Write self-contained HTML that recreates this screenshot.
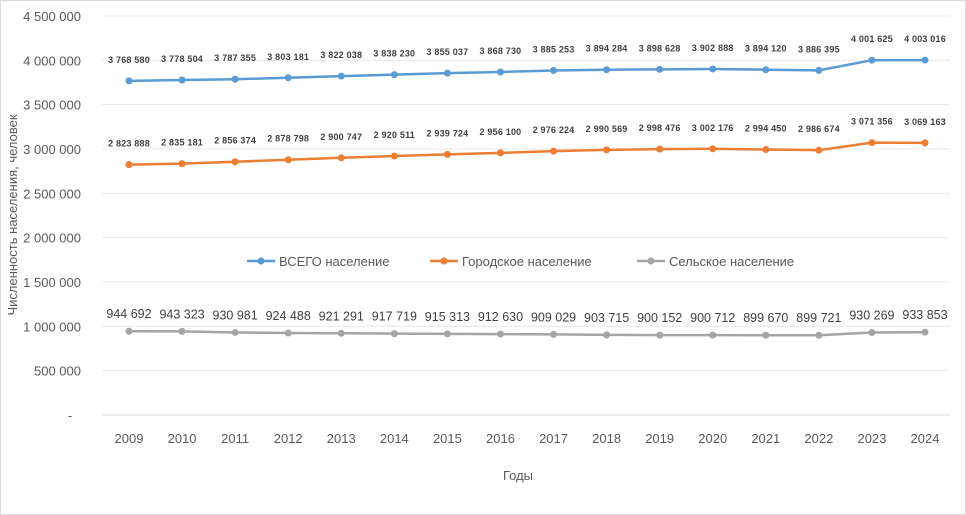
<!DOCTYPE html>
<html><head><meta charset="utf-8"><style>
body{margin:0;background:#fff;}
svg{display:block;font-family:"Liberation Sans",sans-serif;}
</style></head><body>
<svg id="c" width="966" height="515">
<rect x="0.5" y="0.5" width="965" height="514" fill="#fff" stroke="#d9d9d9"/>
<g id="grid"></g><g id="axes"></g><g id="series"></g>
<text x="518" y="480" font-size="13" fill="#595959" text-anchor="middle">Годы</text>
<text transform="translate(17,215) rotate(-90)" font-size="13" fill="#595959" text-anchor="middle">Численность населения, человек</text>
</svg>
<script>
const years=[2009,2010,2011,2012,2013,2014,2015,2016,2017,2018,2019,2020,2021,2022,2023,2024];
const totalPop=[3768580,3778504,3787355,3803181,3822038,3838230,3855037,3868730,3885253,3894284,3898628,3902888,3894120,3886395,4001625,4003016];
const urbanPop=[2823888,2835181,2856374,2878798,2900747,2920511,2939724,2956100,2976224,2990569,2998476,3002176,2994450,2986674,3071356,3069163];
const ruralPop=[944692,943323,930981,924488,921291,917719,915313,912630,909029,903715,900152,900712,899670,899721,930269,933853];
const yTicks=[0,500000,1000000,1500000,2000000,2500000,3000000,3500000,4000000,4500000];
const seriesNames=["ВСЕГО население","Городское население","Сельское население"];
const NS="http://www.w3.org/2000/svg";
const x=i=>129+i*(925-129)/15;
const y=v=>415-v*(415-16)/4500000;
const fmt=v=>v===0?"-":String(v).replace(/\B(?=(\d{3})+(?!\d))/g," ");
function mk(tag,attrs,parent,txt){const e=document.createElementNS(NS,tag);for(const k in attrs)e.setAttribute(k,attrs[k]);if(txt!==undefined)e.textContent=txt;parent.appendChild(e);return e;}
const grid=document.getElementById('grid'),axes=document.getElementById('axes'),ser=document.getElementById('series');
yTicks.forEach(t=>{
  const l=mk('line',{x1:102,x2:950,y1:y(t),y2:y(t),stroke:t===0?'#d9d9d9':'#e8e8e8','stroke-width':1},grid);
  
  
  const tx=mk('text',{x:t===0?70:81,y:y(t)+5,'font-size':13,fill:'#595959','text-anchor':t===0?'middle':'end'},axes,fmt(t));
  
  
});
years.forEach((yr,i)=>{
  const tx=mk('text',{x:x(i),y:443,'font-size':13,fill:'#595959','text-anchor':'middle'},axes,yr);
  
  
});
const defs=[[totalPop,'#5b9bd5',-18,9,'bold','total-series'],[urbanPop,'#ed7d31',-18,9,'bold','urban-series'],[ruralPop,'#a5a5a5',-13,12.5,'normal','rural-series']];
defs.forEach(([d,c,off,fs,fw,nm])=>{
  const g=mk('g',{},ser);
  
  
  const p=mk('polyline',{points:d.map((v,i)=>x(i)+','+y(v)).join(' '),fill:'none',stroke:c,'stroke-width':2.5},g);
  
  
  d.forEach((v,i)=>{
    const m=mk('circle',{cx:x(i),cy:y(v),r:3.5,fill:c},g);
    
    
    const t=mk('text',{x:x(i),y:y(v)+off,'font-size':fs,'font-weight':fw,fill:fw==='bold'?'#404040':'#404040','text-anchor':'middle','letter-spacing':fw==='bold'?'0.2':'0'},g,fmt(v));
    
    
  });
});
const legX=[247,430,637],legC=['#5b9bd5','#ed7d31','#a5a5a5'];
seriesNames.forEach((n,i)=>{
  const g=mk('g',{},ser);
  
  
  mk('line',{x1:legX[i],x2:legX[i]+28,y1:261,y2:261,stroke:legC[i],'stroke-width':2.5},g);
  mk('circle',{cx:legX[i]+14,cy:261,r:3.5,fill:legC[i]},g);
  mk('text',{x:legX[i]+32,y:266,'font-size':13,fill:'#595959'},g,n);
});
</script>
</body></html>
